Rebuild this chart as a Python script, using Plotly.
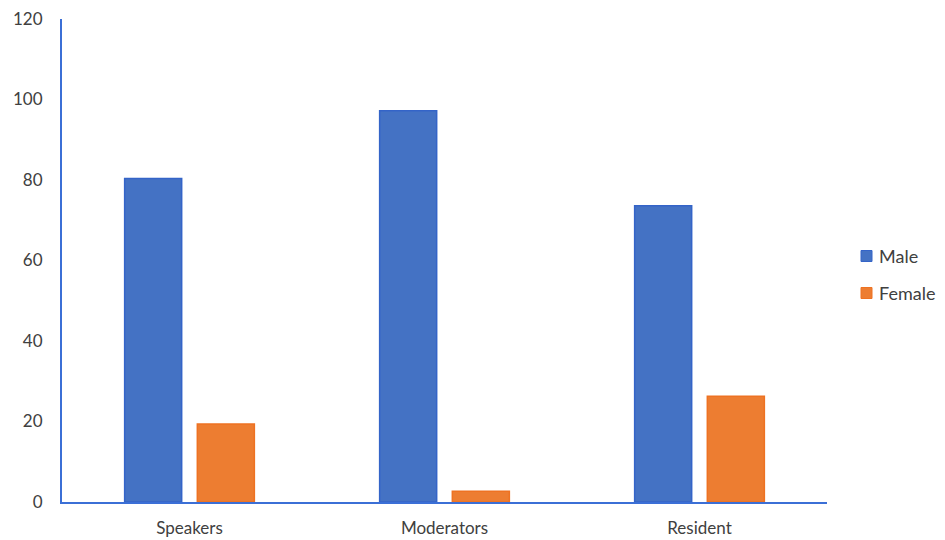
import plotly.graph_objects as go

# Share of each role by gender (%)
categories = ["Speakers", "Moderators", "Resident"]
male = [80.4, 97.2, 73.6]
female = [19.4, 2.7, 26.3]
y_ticks = [0, 20, 40, 60, 80, 100, 120]
series_names = ["Male", "Female"]

blue = "#4472C4"
orange = "#ED7D31"
axis_blue = "#3B6FD6"
text_color = "#404040"
font_family = "Lato, 'Open Sans', sans-serif"

W, H = 945, 540
M_L, M_R, M_T, M_B = 62, 118, 19, 38
plot_w = W - M_L - M_R
plot_h = H - M_T - M_B


def px_to_paper(x, y):
    return (x - M_L) / plot_w, (H - M_B - y) / plot_h


fig = go.Figure()
fig.add_trace(go.Bar(
    name=series_names[0], x=categories, y=male,
    marker=dict(color=blue, line=dict(color="#3464C8", width=1.5)),
))
fig.add_trace(go.Bar(
    name=series_names[1], x=categories, y=female,
    marker=dict(color=orange, line=dict(color="#EE7222", width=1.5)),
))

# Legend drawn as swatches + labels to the right of the plot
legend_items = [(series_names[0], blue, "#3464C8", 256),
                (series_names[1], orange, "#EE7222", 293)]
for name, fill, edge, cy in legend_items:
    x0, y0 = px_to_paper(861, cy + 5.5)
    x1, y1 = px_to_paper(872, cy - 5.5)
    fig.add_shape(type="rect", xref="paper", yref="paper",
                  x0=x0, y0=y0, x1=x1, y1=y1,
                  fillcolor=fill, line=dict(color=edge, width=1))
    tx, ty = px_to_paper(877, cy)
    fig.add_annotation(xref="paper", yref="paper", x=tx, y=ty,
                       xanchor="left", yanchor="middle", showarrow=False,
                       text=name, font=dict(size=18, color=text_color))

fig.update_layout(
    width=W, height=H,
    margin=dict(l=M_L, r=M_R, t=M_T, b=M_B, autoexpand=False),
    paper_bgcolor="white", plot_bgcolor="white",
    barmode="group", bargap=0.43, bargroupgap=0.215,
    font=dict(family=font_family, size=17, color=text_color),
    showlegend=False,
)
fig.update_yaxes(
    range=[0, 120], tickvals=y_ticks, showgrid=False, zeroline=False,
    showline=True, linecolor=axis_blue, linewidth=2,
    ticks="", ticklabelstandoff=14,
    tickfont=dict(size=17, color=text_color),
)
fig.update_xaxes(
    showgrid=False, zeroline=False,
    showline=True, linecolor=axis_blue, linewidth=2,
    ticks="", ticklabelstandoff=10,
    tickfont=dict(size=17, color=text_color),
)

fig.write_html("out.html")
